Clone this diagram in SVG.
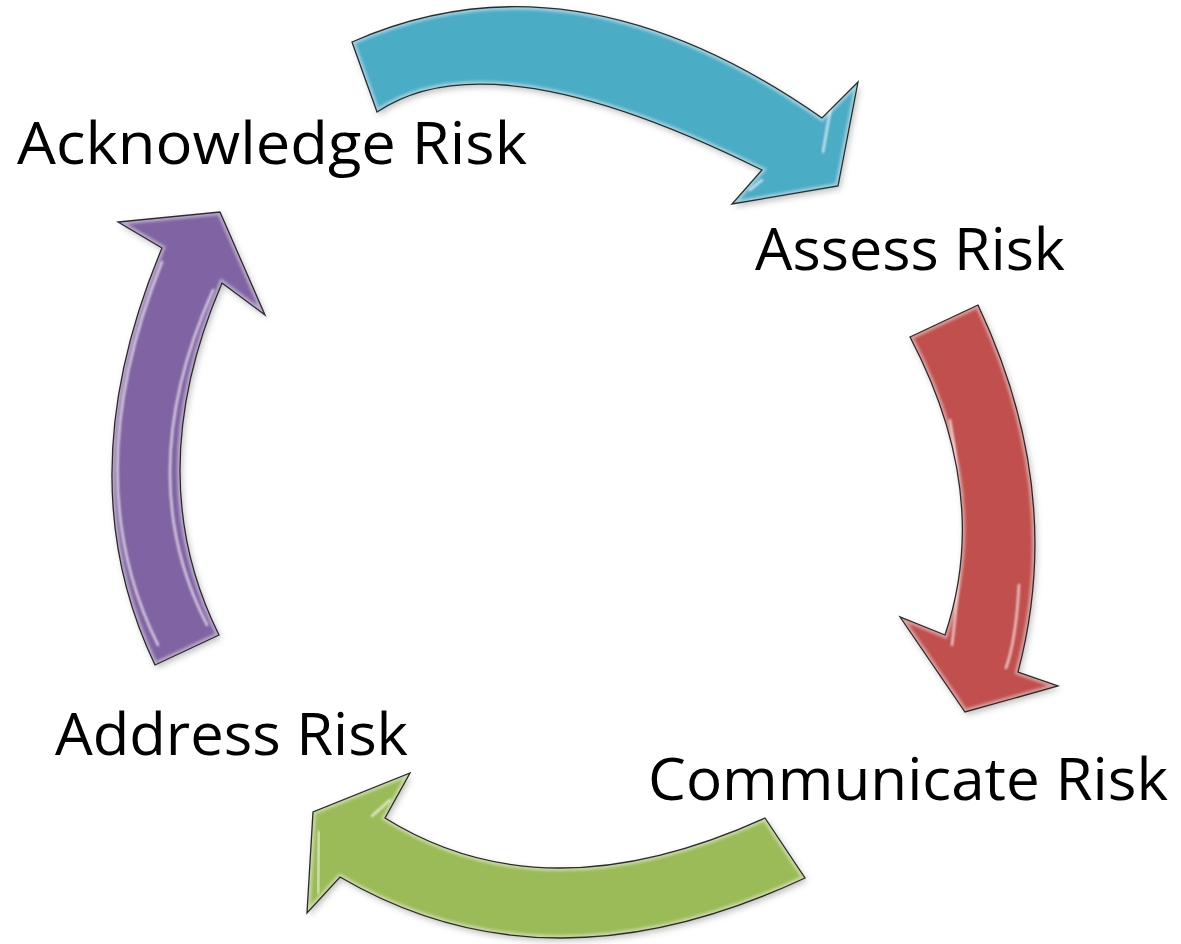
<svg xmlns="http://www.w3.org/2000/svg" width="1181" height="944" viewBox="0 0 1181 944">
<style>
.lbl{font-family:"Open Sans","Liberation Sans",sans-serif;font-size:59px;fill:#000}
.arrow{stroke:#2b2b2b;stroke-width:1.3;stroke-linejoin:miter}
.glow{fill:none;stroke:#fff;stroke-width:6;opacity:0.45}
.streak{fill:none;stroke:#fff;stroke-width:2.5;stroke-linecap:round;opacity:0.7}
</style>
<defs>
<filter id="sh" x="-10%" y="-10%" width="120%" height="120%">
<feDropShadow dx="2" dy="3" stdDeviation="3" flood-color="#000" flood-opacity="0.25"/>
</filter>
<filter id="bl"><feGaussianBlur stdDeviation="1.5"/></filter>
<filter id="bl2" x="-20%" y="-20%" width="140%" height="140%"><feGaussianBlur stdDeviation="0.8"/></filter>
<path id="pTop" d="M352,42 Q573,-56 822,118 L858,82 L838,186 L732,204 L762,170 Q490.5,35 377,112 Z"/>
<path id="pRight" d="M910,337 L978,305 Q1066,491.5 1018,672 L1058,686 L965,712 L900,617 L945,635 Q992.5,494 910,337 Z"/>
<path id="pBottom" d="M765,818 L805,878 Q547.5,998.5 340,877 L307,913 L313,812 L410,773 L385,818 Q545,918 765,818 Z"/>
<path id="pLeft" d="M155,665 Q65.5,477.5 162,248 L118,222 L220,212 L265,315 L222,283 Q139.5,475 219,635 Z"/>
<clipPath id="cTop"><use href="#pTop"/></clipPath>
<clipPath id="cRight"><use href="#pRight"/></clipPath>
<clipPath id="cBottom"><use href="#pBottom"/></clipPath>
<clipPath id="cLeft"><use href="#pLeft"/></clipPath>
</defs>
<rect width="1181" height="944" fill="#fff"/>
<g id="connectors">
<g id="arrow-acknowledge-assess">
<use href="#pTop" fill="#4BACC6" filter="url(#sh)"/>
<g clip-path="url(#cTop)"><use href="#pTop" class="glow" filter="url(#bl)"/>
<path class="streak" filter="url(#bl2)" d="M831,106 L823,152"/>
<path class="streak" filter="url(#bl2)" d="M750,190 L762,180"/></g>
<use href="#pTop" class="arrow" fill="none"/>
</g>
<g id="arrow-assess-communicate">
<use href="#pRight" fill="#C0504D" filter="url(#sh)"/>
<g clip-path="url(#cRight)"><use href="#pRight" class="glow" filter="url(#bl)"/>
<path class="streak" filter="url(#bl2)" d="M950,420 Q968,520 952,645"/>
<path class="streak" filter="url(#bl2)" d="M1019,585 Q1016,640 1006,668"/></g>
<use href="#pRight" class="arrow" fill="none"/>
</g>
<g id="arrow-communicate-address">
<use href="#pBottom" fill="#9BBB59" filter="url(#sh)"/>
<g clip-path="url(#cBottom)"><use href="#pBottom" class="glow" filter="url(#bl)"/>
<path class="streak" filter="url(#bl2)" d="M319,832 L318,893"/>
<path class="streak" filter="url(#bl2)" d="M372,816 L390,800"/></g>
<use href="#pBottom" class="arrow" fill="none"/>
</g>
<g id="arrow-address-acknowledge">
<use href="#pLeft" fill="#8064A2" filter="url(#sh)"/>
<g clip-path="url(#cLeft)"><use href="#pLeft" class="glow" filter="url(#bl)"/>
<path class="streak" filter="url(#bl2)" d="M162,262 Q75,478 158,645"/>
<path class="streak" filter="url(#bl2)" d="M213,290 Q130,475 207,625"/></g>
<use href="#pLeft" class="arrow" fill="none"/>
</g>
</g>
<g id="node-acknowledge"><text class="lbl" x="17" y="164" textLength="510" lengthAdjust="spacingAndGlyphs">Acknowledge Risk</text></g>
<g id="node-assess"><text class="lbl" x="755" y="270" textLength="310" lengthAdjust="spacingAndGlyphs">Assess Risk</text></g>
<g id="node-communicate"><text class="lbl" x="648" y="800" textLength="520" lengthAdjust="spacingAndGlyphs">Communicate Risk</text></g>
<g id="node-address"><text class="lbl" x="55" y="755" textLength="353" lengthAdjust="spacingAndGlyphs">Address Risk</text></g>
</svg>
